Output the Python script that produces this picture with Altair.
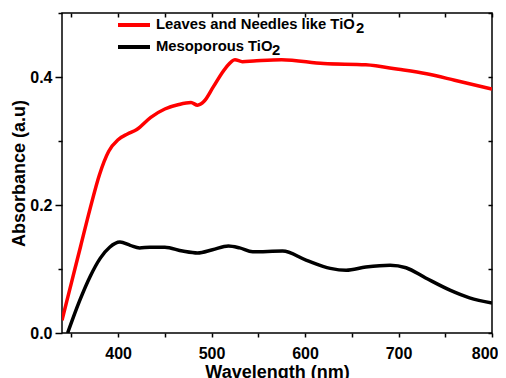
import altair as alt
import pandas as pd

red_x = [340, 350, 360, 370, 380, 390, 400, 410, 420, 435, 450, 465, 478, 485, 492, 502, 515, 525, 533, 545, 575, 620, 665, 700, 730, 760, 800]
red_y = [0.020, 0.078, 0.136, 0.194, 0.247, 0.284, 0.302, 0.311, 0.318, 0.337, 0.350, 0.357, 0.360, 0.356, 0.362, 0.385, 0.414, 0.427, 0.424, 0.425, 0.427, 0.421, 0.419, 0.412, 0.405, 0.395, 0.381]

black_x = [346, 359, 370, 381, 391, 402, 413, 423, 434, 450, 469, 485, 501, 518, 530, 544, 576, 601, 627, 644, 665, 691, 708, 729, 755, 776, 800]
black_y = [0.000, 0.051, 0.088, 0.117, 0.134, 0.142, 0.137, 0.133, 0.134, 0.134, 0.128, 0.125, 0.130, 0.136, 0.133, 0.127, 0.128, 0.114, 0.101, 0.098, 0.103, 0.106, 0.102, 0.086, 0.067, 0.055, 0.047]

series_names = ["Leaves and Needles like TiO2", "Mesoporous TiO2"]
legend_main = ["Leaves and Needles like TiO", "Mesoporous TiO"]
legend_sub = ["2", "2"]
series_colors = ["#ff0000", "#000000"]

x_ticks = [350, 400, 450, 500, 550, 600, 650, 700, 750, 800]
y_ticks = [0.0, 0.1, 0.2, 0.3, 0.4, 0.5]

df = pd.concat([
    pd.DataFrame({"wl": red_x, "abs": red_y, "series": series_names[0], "order": range(len(red_x))}),
    pd.DataFrame({"wl": black_x, "abs": black_y, "series": series_names[1], "order": range(len(black_x))}),
])

FONT = "Liberation Sans"

xscale = alt.Scale(domain=[340, 800], nice=False, zero=False)
yscale = alt.Scale(domain=[0, 0.5], nice=False)
cscale = alt.Scale(domain=series_names, range=series_colors)

lines = alt.Chart(df).mark_line(strokeWidth=3.5, interpolate="monotone", clip=True).encode(
    x=alt.X("wl:Q", scale=xscale, title="Wavelength (nm)",
            axis=alt.Axis(values=x_ticks, domain=False, grid=False, labelFlush=False,
                          labelExpr="datum.value % 100 === 0 ? datum.value : ''",
                          labelAlign={"condition": {"test": "datum.value === 800", "value": "right"}, "value": "center"},
                          labelOffset={"condition": {"test": "datum.value === 800", "value": 6}, "value": 0},
                          tickSize=4, tickColor="black", tickWidth=1.5, labelPadding=8,
                          labelFont=FONT, labelFontSize=16, labelFontWeight="bold", labelColor="black",
                          titleFont=FONT, titleFontSize=18, titleFontWeight="bold", titleColor="black",
                          titlePadding=2)),
    y=alt.Y("abs:Q", scale=yscale, title="Absorbance (a.u)",
            axis=alt.Axis(values=y_ticks, domain=False, grid=False, labelFlush=False,
                          labelExpr="abs(round(datum.value*10) % 2) == 0 && datum.value < 0.45 ? format(datum.value, '.1f') : ''",
                          tickSize={"condition": {"test": "abs(round(datum.value*10) % 2) == 0", "value": 7}, "value": 4},
                          tickColor="black", tickWidth=1.5, labelPadding=3,
                          labelFont=FONT, labelFontSize=16, labelFontWeight="bold", labelColor="black",
                          titleFont=FONT, titleFontSize=18, titleFontWeight="bold", titleColor="black",
                          titlePadding=1)),
    color=alt.Color("series:N", scale=cscale, legend=None),
    order="order:Q",
)

mirror = alt.Chart(df).mark_point(opacity=0).encode(
    x=alt.X("wl:Q", scale=xscale,
            axis=alt.Axis(orient="top", values=x_ticks, domain=False, grid=False, labels=False, title=None,
                          tickSize=4, tickColor="black", tickWidth=1.5, offset=-4)),
    y=alt.Y("abs:Q", scale=yscale,
            axis=alt.Axis(orient="right", values=y_ticks, domain=False, grid=False, labels=False, title=None,
                          tickSize=4, tickColor="black", tickWidth=1.5, offset=-4)),
)

# manual legend (one row per series)
row_y = [12, 34]
sub_x = [294, 210]
legend_layers = []
for i in range(len(series_names)):
    one = pd.DataFrame({"main": [legend_main[i]], "sub": [legend_sub[i]]})
    legend_layers.append(
        alt.Chart(one).mark_rule(strokeWidth=4, color=series_colors[i]).encode(
            x=alt.value(56), x2=alt.value(88), y=alt.value(row_y[i]))
    )
    legend_layers.append(
        alt.Chart(one).mark_text(align="left", baseline="middle", font=FONT, fontSize=14.8,
                                 fontWeight="bold", color="black").encode(
            x=alt.value(94), y=alt.value(row_y[i]), text="main:N")
    )
    legend_layers.append(
        alt.Chart(one).mark_text(align="left", baseline="middle", font=FONT, fontSize=14.8,
                                 fontWeight="bold", color="black").encode(
            x=alt.value(sub_x[i]), y=alt.value(row_y[i] + 4), text="sub:N")
    )

chart = alt.layer(lines, mirror, *legend_layers).resolve_axis(
    x="independent", y="independent"
).properties(
    width=430, height=320,
    autosize=alt.AutoSizeParams(type="none"),
    padding={"left": 54, "top": 5, "right": 6, "bottom": 45},
).configure_view(stroke="black", strokeWidth=1.5)

chart.save("out.html", embed_options={"renderer": "svg", "actions": False})
